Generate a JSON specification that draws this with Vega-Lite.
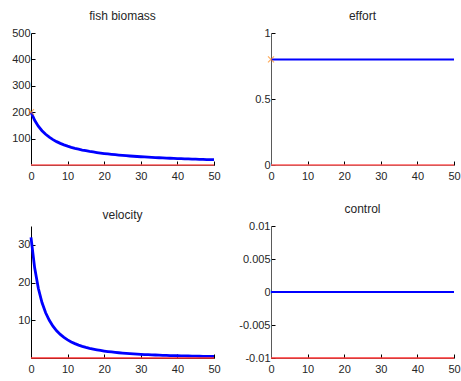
{
  "$schema": "https://vega.github.io/schema/vega-lite/v6.json",
  "padding": {"left": 11, "top": 10, "right": 2, "bottom": 2},
  "background": "white",
  "datasets": {
    "sim": [
      {"t":0,"biomass":200,"velocity":32,"effort":0.8,"control":0},
      {"t":1,"biomass":169.5,"velocity":23.9,"effort":0.8,"control":0},
      {"t":2,"biomass":147.1,"velocity":18.5,"effort":0.8,"control":0},
      {"t":3,"biomass":129.9,"velocity":14.7,"effort":0.8,"control":0},
      {"t":4,"biomass":116.3,"velocity":12.0,"effort":0.8,"control":0},
      {"t":5,"biomass":105.3,"velocity":9.99,"effort":0.8,"control":0},
      {"t":6,"biomass":96.2,"velocity":8.43,"effort":0.8,"control":0},
      {"t":7,"biomass":88.5,"velocity":7.22,"effort":0.8,"control":0},
      {"t":8,"biomass":82.0,"velocity":6.24,"effort":0.8,"control":0},
      {"t":9,"biomass":76.3,"velocity":5.46,"effort":0.8,"control":0},
      {"t":10,"biomass":71.4,"velocity":4.81,"effort":0.8,"control":0},
      {"t":11,"biomass":67.1,"velocity":4.27,"effort":0.8,"control":0},
      {"t":12,"biomass":63.3,"velocity":3.82,"effort":0.8,"control":0},
      {"t":13,"biomass":59.9,"velocity":3.43,"effort":0.8,"control":0},
      {"t":14,"biomass":56.8,"velocity":3.10,"effort":0.8,"control":0},
      {"t":15,"biomass":54.1,"velocity":2.82,"effort":0.8,"control":0},
      {"t":16,"biomass":51.5,"velocity":2.57,"effort":0.8,"control":0},
      {"t":17,"biomass":49.3,"velocity":2.36,"effort":0.8,"control":0},
      {"t":18,"biomass":47.2,"velocity":2.17,"effort":0.8,"control":0},
      {"t":19,"biomass":45.2,"velocity":2.00,"effort":0.8,"control":0},
      {"t":20,"biomass":43.5,"velocity":1.85,"effort":0.8,"control":0},
      {"t":21,"biomass":41.8,"velocity":1.72,"effort":0.8,"control":0},
      {"t":22,"biomass":40.3,"velocity":1.60,"effort":0.8,"control":0},
      {"t":23,"biomass":38.9,"velocity":1.49,"effort":0.8,"control":0},
      {"t":24,"biomass":37.6,"velocity":1.39,"effort":0.8,"control":0},
      {"t":25,"biomass":36.4,"velocity":1.31,"effort":0.8,"control":0},
      {"t":26,"biomass":35.2,"velocity":1.23,"effort":0.8,"control":0},
      {"t":27,"biomass":34.1,"velocity":1.15,"effort":0.8,"control":0},
      {"t":28,"biomass":33.1,"velocity":1.09,"effort":0.8,"control":0},
      {"t":29,"biomass":32.2,"velocity":1.03,"effort":0.8,"control":0},
      {"t":30,"biomass":31.3,"velocity":0.97,"effort":0.8,"control":0},
      {"t":31,"biomass":30.4,"velocity":0.92,"effort":0.8,"control":0},
      {"t":32,"biomass":29.6,"velocity":0.87,"effort":0.8,"control":0},
      {"t":33,"biomass":28.8,"velocity":0.83,"effort":0.8,"control":0},
      {"t":34,"biomass":28.1,"velocity":0.79,"effort":0.8,"control":0},
      {"t":35,"biomass":27.4,"velocity":0.75,"effort":0.8,"control":0},
      {"t":36,"biomass":26.7,"velocity":0.72,"effort":0.8,"control":0},
      {"t":37,"biomass":26.1,"velocity":0.68,"effort":0.8,"control":0},
      {"t":38,"biomass":25.5,"velocity":0.65,"effort":0.8,"control":0},
      {"t":39,"biomass":24.9,"velocity":0.62,"effort":0.8,"control":0},
      {"t":40,"biomass":24.4,"velocity":0.60,"effort":0.8,"control":0},
      {"t":41,"biomass":23.9,"velocity":0.57,"effort":0.8,"control":0},
      {"t":42,"biomass":23.4,"velocity":0.55,"effort":0.8,"control":0},
      {"t":43,"biomass":22.9,"velocity":0.53,"effort":0.8,"control":0},
      {"t":44,"biomass":22.4,"velocity":0.51,"effort":0.8,"control":0},
      {"t":45,"biomass":22.0,"velocity":0.49,"effort":0.8,"control":0},
      {"t":46,"biomass":21.6,"velocity":0.47,"effort":0.8,"control":0},
      {"t":47,"biomass":21.1,"velocity":0.45,"effort":0.8,"control":0},
      {"t":48,"biomass":20.7,"velocity":0.43,"effort":0.8,"control":0},
      {"t":49,"biomass":20.4,"velocity":0.42,"effort":0.8,"control":0},
      {"t":50,"biomass":20.0,"velocity":0.40,"effort":0.8,"control":0}
    ],
    "lowerBounds": [
      {"panel":"fish biomass","lower":0},
      {"panel":"effort","lower":0},
      {"panel":"velocity","lower":0},
      {"panel":"control","lower":-0.01}
    ]
  },
  "columns": 2,
  "spacing": {"row": 61, "column": 57},
  "bounds": "flush",
  "config": {
    "view": {"stroke": null},
    "font": "Liberation Sans",
    "axis": {
      "grid": false,
      "title": null,
      "domainColor": "#000000",
      "tickColor": "#000000",
      "tickSize": -4,
      "tickWidth": 1,
      "labelFontSize": 11,
      "labelFont": "Liberation Sans",
      "labelColor": "#262626",
      "labelPadding": 5,
      "labelFlush": false,
      "labelOverlap": false,
      "labelBound": false,
      "labelSeparation": 0
    },
    "title": {"fontSize": 12, "fontWeight": "normal", "color": "#262626", "font": "Liberation Sans", "frame": "group", "offset": 4}
  },
  "concat": [
    {
      "title": "fish biomass",
      "width": 183, "height": 132,
      "data": {"name": "sim"},
      "encoding": {
        "x": {"field": "t", "type": "quantitative", "scale": {"domain": [0, 50]}, "axis": {"values": [0,10,20,30,40,50], "labelOverlap": false, "labelPadding": 9}}
      },
      "layer": [
        {
          "mark": {"type": "line", "color": "#0000ff", "strokeWidth": 2.8},
          "encoding": {
            "y": {"field": "biomass", "type": "quantitative", "scale": {"domain": [0, 500]}, "axis": {"values": [100,200,300,400,500], "labelOverlap": false}}
          }
        },
        {
          "transform": [{"filter": "datum.t == 0"}],
          "mark": {"type": "point", "shape": "M-1,-1L1,1M1,-1L-1,1", "filled": false, "color": "#ff8c1a", "size": 36, "strokeWidth": 1.2},
          "encoding": {
            "y": {"field": "biomass", "type": "quantitative", "axis": {"values": [100,200,300,400,500], "labelOverlap": false}}
          }
        },
        {
          "data": {"name": "lowerBounds"},
          "transform": [{"filter": "datum.panel == 'fish biomass'"}],
          "mark": {"type": "rule", "color": "#ff5a5a", "strokeWidth": 1.5},
          "encoding": {"x": null, "y": {"field": "lower", "type": "quantitative", "axis": {"values": [100,200,300,400,500], "labelOverlap": false}}}
        }
      ]
    },
    {
      "title": "effort",
      "width": 183, "height": 132,
      "data": {"name": "sim"},
      "encoding": {
        "x": {"field": "t", "type": "quantitative", "scale": {"domain": [0, 50]}, "axis": {"values": [0,10,20,30,40,50], "domainColor": "#5a5a5a", "labelOverlap": false, "labelPadding": 9}}
      },
      "layer": [
        {
          "mark": {"type": "line", "color": "#0000ff", "strokeWidth": 2},
          "encoding": {
            "y": {"field": "effort", "type": "quantitative", "scale": {"domain": [0, 1]}, "axis": {"values": [0,0.5,1], "labelExpr": "'' + datum.value", "domainColor": "#5a5a5a", "labelOverlap": false}}
          }
        },
        {
          "transform": [{"filter": "datum.t == 0"}],
          "mark": {"type": "point", "shape": "M-1,-1L1,1M1,-1L-1,1", "filled": false, "color": "#ff8c1a", "size": 36, "strokeWidth": 1.2},
          "encoding": {
            "y": {"field": "effort", "type": "quantitative", "axis": {"values": [0,0.5,1], "labelExpr": "'' + datum.value", "domainColor": "#5a5a5a", "labelOverlap": false}}
          }
        },
        {
          "data": {"name": "lowerBounds"},
          "transform": [{"filter": "datum.panel == 'effort'"}],
          "mark": {"type": "rule", "color": "#ff5a5a", "strokeWidth": 1.5},
          "encoding": {"x": null, "y": {"field": "lower", "type": "quantitative", "axis": {"values": [0,0.5,1], "labelExpr": "'' + datum.value", "domainColor": "#5a5a5a", "labelOverlap": false}}}
        }
      ]
    },
    {
      "title": "velocity",
      "width": 183, "height": 132,
      "data": {"name": "sim"},
      "encoding": {
        "x": {"field": "t", "type": "quantitative", "scale": {"domain": [0, 50]}, "axis": {"values": [0,10,20,30,40,50], "labelOverlap": false, "labelPadding": 9}}
      },
      "layer": [
        {
          "mark": {"type": "line", "color": "#0000ff", "strokeWidth": 2.8},
          "encoding": {
            "y": {"field": "velocity", "type": "quantitative", "scale": {"domain": [0, 32]}, "axis": {"values": [10,20,30], "labelOverlap": false}}
          }
        },
        {
          "data": {"name": "lowerBounds"},
          "transform": [{"filter": "datum.panel == 'velocity'"}],
          "mark": {"type": "rule", "color": "#ff3333", "strokeWidth": 1.5},
          "encoding": {"x": null, "y": {"field": "lower", "type": "quantitative", "axis": {"values": [10,20,30], "labelOverlap": false}}}
        }
      ]
    },
    {
      "title": "control",
      "width": 183, "height": 132,
      "data": {"name": "sim"},
      "encoding": {
        "x": {"field": "t", "type": "quantitative", "scale": {"domain": [0, 50]}, "axis": {"values": [0,10,20,30,40,50], "domainColor": "#5a5a5a", "labelOverlap": false, "labelPadding": 9}}
      },
      "layer": [
        {
          "mark": {"type": "line", "color": "#0000ff", "strokeWidth": 2},
          "encoding": {
            "y": {"field": "control", "type": "quantitative", "scale": {"domain": [-0.01, 0.01]}, "axis": {"values": [-0.01,-0.005,0,0.005,0.01], "labelExpr": "'' + datum.value", "domainColor": "#5a5a5a", "labelOverlap": false}}
          }
        },
        {
          "data": {"name": "lowerBounds"},
          "transform": [{"filter": "datum.panel == 'control'"}],
          "mark": {"type": "rule", "color": "#ff3333", "strokeWidth": 1.5},
          "encoding": {"x": null, "y": {"field": "lower", "type": "quantitative", "axis": {"values": [-0.01,-0.005,0,0.005,0.01], "labelExpr": "'' + datum.value", "domainColor": "#5a5a5a", "labelOverlap": false}}}
        }
      ]
    }
  ]
}
